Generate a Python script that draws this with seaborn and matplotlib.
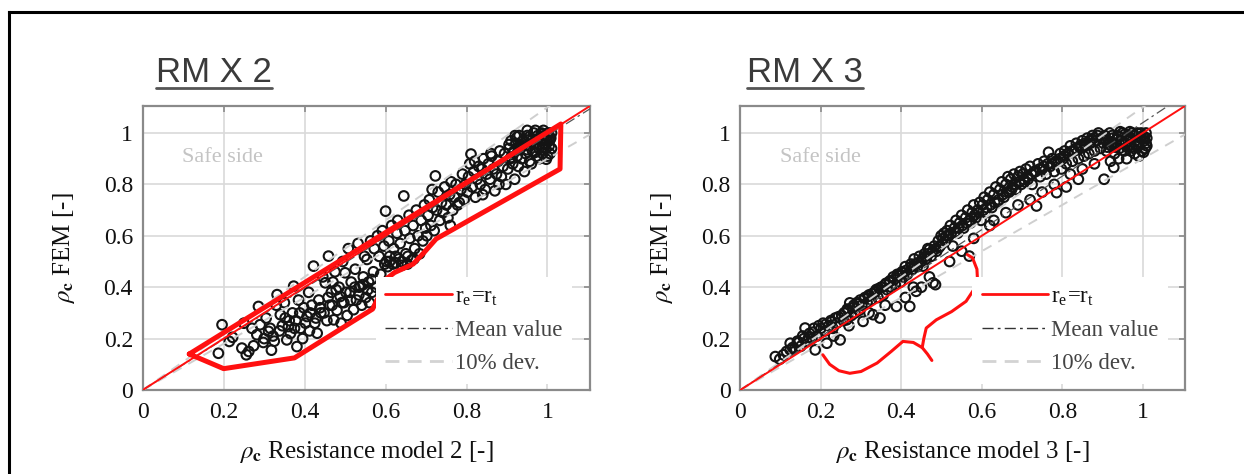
import matplotlib
matplotlib.use("Agg")
import matplotlib.pyplot as plt
import seaborn as sns
from matplotlib.lines import Line2D

# ---------------- text ----------------
panel_titles = ["RM X 2", "RM X 3"]
x_labels = [r"$\rho_{\mathbf{c}}$ Resistance model 2 [-]",
            r"$\rho_{\mathbf{c}}$ Resistance model 3 [-]"]
y_label = r"$\rho_{\mathbf{c}}$ FEM [-]"
tick_values = [0, 0.2, 0.4, 0.6, 0.8, 1]
tick_labels = ["0", "0.2", "0.4", "0.6", "0.8", "1"]
legend_labels = [r"r$_\mathregular{e}$=r$_\mathregular{t}$", "Mean value", "10% dev."]
safe_text = "Safe side"

# ---------------- data: RM X 2 ----------------
rm2_x = [0.196, 0.187, 0.214, 0.222, 0.245, 0.256, 0.262, 0.274, 0.286, 0.290, 0.282, 0.298, 0.270, 0.250,
         0.311, 0.305, 0.318, 0.325, 0.332, 0.340, 0.345, 0.350, 0.356, 0.360, 0.365, 0.370, 0.373, 0.378, 0.381, 0.385, 0.390, 0.395, 0.398, 0.330,
         0.406, 0.410, 0.412, 0.418, 0.422, 0.425, 0.431, 0.435, 0.440, 0.445, 0.451, 0.455, 0.459, 0.462, 0.466, 0.472, 0.475, 0.480, 0.485, 0.488, 0.490, 0.494, 0.497, 0.500, 0.470,
         0.505, 0.508, 0.512, 0.515, 0.521, 0.525, 0.528, 0.532, 0.535, 0.538, 0.541, 0.545, 0.548, 0.551, 0.554, 0.558, 0.560, 0.563, 0.566, 0.570, 0.572, 0.576, 0.580, 0.584, 0.588, 0.592, 0.596, 0.598,
         0.600, 0.602, 0.605, 0.608, 0.610, 0.615, 0.618, 0.620, 0.625, 0.628, 0.630, 0.633, 0.636, 0.640, 0.645, 0.648, 0.650, 0.654, 0.658, 0.660, 0.664, 0.668, 0.672, 0.676, 0.680, 0.684, 0.688, 0.692, 0.696, 0.699,
         0.702, 0.705, 0.708, 0.712, 0.716, 0.720, 0.723, 0.726, 0.730, 0.734, 0.738, 0.742, 0.746, 0.750, 0.754, 0.758, 0.762, 0.766, 0.770, 0.774, 0.778, 0.782, 0.786, 0.790, 0.794, 0.797, 0.760, 0.715,
         0.802, 0.805, 0.808, 0.811, 0.814, 0.818, 0.822, 0.826, 0.830, 0.834, 0.838, 0.842, 0.846, 0.850, 0.854, 0.858, 0.862, 0.866, 0.870, 0.874, 0.878, 0.882, 0.886, 0.890, 0.894, 0.897, 0.840, 0.880, 0.860, 0.820,
         0.902, 0.905, 0.908, 0.910, 0.914, 0.918, 0.919, 0.922, 0.925, 0.928, 0.930, 0.933, 0.936, 0.940, 0.943, 0.946, 0.950, 0.953, 0.956, 0.960, 0.963, 0.966, 0.970, 0.973, 0.976, 0.979, 0.982, 0.985, 0.988, 0.990, 0.993, 0.996, 0.997, 0.999, 1.002, 1.004, 1.006, 1.008, 1.010, 1.010, 0.950, 0.970, 0.990, 1.000, 0.960, 0.980, 1.000, 0.940, 0.920, 1.005]
rm2_y = [0.254, 0.143, 0.189, 0.205, 0.163, 0.137, 0.150, 0.172, 0.325, 0.254, 0.215, 0.185, 0.240, 0.260,
         0.228, 0.280, 0.155, 0.190, 0.371, 0.293, 0.250, 0.340, 0.195, 0.247, 0.220, 0.300, 0.404, 0.270, 0.169, 0.350, 0.240, 0.200, 0.320, 0.330,
         0.286, 0.380, 0.230, 0.330, 0.482, 0.260, 0.221, 0.350, 0.300, 0.440, 0.417, 0.270, 0.521, 0.330, 0.380, 0.273, 0.460, 0.310, 0.400, 0.364, 0.260, 0.500, 0.340, 0.456, 0.420,
         0.290, 0.550, 0.380, 0.420, 0.3125, 0.470, 0.350, 0.570, 0.400, 0.404, 0.330, 0.440, 0.520, 0.360, 0.508, 0.420, 0.340, 0.580, 0.380, 0.460, 0.550, 0.400, 0.600, 0.520, 0.450, 0.620, 0.560, 0.490,
         0.696, 0.500, 0.480, 0.580, 0.520, 0.640, 0.490, 0.550, 0.495, 0.610, 0.660, 0.510, 0.570, 0.485, 0.755, 0.620, 0.530, 0.490, 0.680, 0.590, 0.505, 0.640, 0.550, 0.700, 0.600, 0.530, 0.660, 0.580, 0.720, 0.630,
         0.600, 0.680, 0.740, 0.640, 0.710, 0.620, 0.833, 0.700, 0.770, 0.660, 0.730, 0.690, 0.790, 0.720, 0.670, 0.760, 0.810, 0.700, 0.750, 0.800, 0.720, 0.729, 0.780, 0.840, 0.740, 0.800, 0.640, 0.780,
         0.770, 0.830, 0.880, 0.918, 0.790, 0.850, 0.750, 0.820, 0.870, 0.800, 0.860, 0.900, 0.780, 0.840, 0.880, 0.820, 0.910, 0.860, 0.775, 0.840, 0.890, 0.930, 0.830, 0.870, 0.920, 0.800, 0.760, 0.800, 0.920, 0.890,
         0.860, 0.940, 0.900, 0.970, 0.880, 0.930, 0.820, 0.960, 0.910, 0.870, 0.990, 0.940, 0.900, 0.970, 0.850, 0.920, 0.990, 0.950, 0.890, 0.970, 0.930, 1.000, 0.960, 0.910, 0.990, 0.940, 0.970, 1.000, 0.920, 0.960, 0.990, 0.940, 0.898, 0.970, 1.000, 0.950, 0.920, 0.980, 1.000, 0.940, 1.010, 1.010, 1.010, 0.990, 0.880, 0.900, 0.910, 0.950, 0.990, 0.970]
rm2_extra_x = [0.300, 0.315, 0.322, 0.338, 0.352, 0.362, 0.375, 0.388, 0.402, 0.414, 0.428, 0.438, 0.448, 0.458, 0.468, 0.478, 0.492, 0.502, 0.514, 0.524, 0.534, 0.544, 0.556, 0.566,
               0.610, 0.625, 0.640, 0.655, 0.670,
               0.905, 0.915, 0.925, 0.935, 0.945, 0.955, 0.965, 0.975, 0.985, 0.995, 1.005, 0.910, 0.930, 0.950, 0.970, 0.990]
rm2_extra_y = [0.200, 0.240, 0.210, 0.230, 0.280, 0.270, 0.240, 0.300, 0.260, 0.300, 0.280, 0.320, 0.300, 0.360, 0.330, 0.390, 0.340, 0.380, 0.350, 0.400, 0.370, 0.410, 0.390, 0.430,
               0.500, 0.520, 0.500, 0.520, 0.510,
               0.955, 0.925, 0.985, 0.945, 0.965, 0.985, 0.955, 0.975, 0.995, 0.955, 0.985, 0.905, 0.945, 0.935, 0.925, 0.945]

# ---------------- data: RM X 3 ----------------
rm3_x = [0.087, 0.107, 0.124, 0.124, 0.135, 0.142, 0.150, 0.155, 0.161, 0.165, 0.172, 0.178, 0.183, 0.190, 0.195, 0.186, 0.098, 0.115,
         0.206, 0.210, 0.215, 0.220, 0.225, 0.230, 0.236, 0.240, 0.248, 0.252, 0.256, 0.260, 0.264, 0.268, 0.272, 0.276, 0.280, 0.285, 0.290, 0.295, 0.298, 0.232, 0.270,
         0.302, 0.305, 0.310, 0.315, 0.320, 0.325, 0.330, 0.334, 0.338, 0.342, 0.347, 0.350, 0.355, 0.360, 0.365, 0.370, 0.375, 0.380, 0.385, 0.388, 0.390, 0.396, 0.398, 0.360, 0.320,
         0.402, 0.406, 0.410, 0.415, 0.421, 0.424, 0.428, 0.432, 0.437, 0.440, 0.445, 0.450, 0.454, 0.458, 0.462, 0.466, 0.470, 0.474, 0.479, 0.482, 0.485, 0.488, 0.492, 0.496, 0.499, 0.410, 0.450, 0.470, 0.430,
         0.502, 0.506, 0.510, 0.514, 0.518, 0.522, 0.528, 0.532, 0.536, 0.540, 0.545, 0.550, 0.555, 0.560, 0.565, 0.569, 0.572, 0.576, 0.580, 0.585, 0.590, 0.595, 0.598, 0.520, 0.550, 0.580,
         0.602, 0.606, 0.610, 0.615, 0.620, 0.625, 0.630, 0.635, 0.640, 0.645, 0.650, 0.655, 0.660, 0.665, 0.668, 0.672, 0.676, 0.680, 0.685, 0.690, 0.695, 0.698, 0.630, 0.660, 0.690, 0.620,
         0.702, 0.706, 0.710, 0.715, 0.720, 0.725, 0.730, 0.736, 0.740, 0.745, 0.750, 0.755, 0.760, 0.766, 0.770, 0.775, 0.780, 0.786, 0.790, 0.795, 0.798, 0.720, 0.750, 0.780,
         0.802, 0.806, 0.810, 0.815, 0.820, 0.825, 0.830, 0.835, 0.840, 0.845, 0.850, 0.854, 0.858, 0.862, 0.866, 0.870, 0.875, 0.880, 0.885, 0.890, 0.895, 0.898, 0.820, 0.850, 0.880, 0.810, 0.840,
         0.902, 0.904, 0.906, 0.910, 0.914, 0.918, 0.922, 0.926, 0.928, 0.930, 0.934, 0.938, 0.942, 0.946, 0.950, 0.954, 0.958, 0.962, 0.966, 0.970, 0.974, 0.978, 0.982, 0.986, 0.990, 0.994, 0.998, 1.002, 1.005, 1.008, 1.010, 1.010, 0.960, 0.990, 1.000, 0.940, 0.920, 0.980, 1.006, 0.970]
rm3_y = [0.130, 0.137, 0.156, 0.182, 0.160, 0.190, 0.170, 0.210, 0.241, 0.190, 0.220, 0.200, 0.240, 0.210, 0.250, 0.156, 0.120, 0.150,
         0.260, 0.230, 0.182, 0.250, 0.270, 0.240, 0.280, 0.260, 0.195, 0.290, 0.270, 0.300, 0.273, 0.310, 0.339, 0.290, 0.320, 0.300, 0.340, 0.310, 0.350, 0.210, 0.250,
         0.330, 0.267, 0.360, 0.340, 0.370, 0.350, 0.293, 0.380, 0.391, 0.360, 0.280, 0.400, 0.370, 0.410, 0.390, 0.420, 0.400, 0.440, 0.410, 0.325, 0.450, 0.449, 0.420, 0.330, 0.300,
         0.460, 0.440, 0.480, 0.450, 0.325, 0.490, 0.470, 0.510, 0.384, 0.480, 0.520, 0.500, 0.482, 0.530, 0.510, 0.550, 0.547, 0.520, 0.417, 0.560, 0.410, 0.540, 0.580, 0.560, 0.600, 0.360, 0.400, 0.440, 0.400,
         0.570, 0.610, 0.580, 0.620, 0.600, 0.640, 0.560, 0.630, 0.660, 0.610, 0.650, 0.680, 0.630, 0.670, 0.700, 0.521, 0.650, 0.690, 0.720, 0.670, 0.700, 0.730, 0.660, 0.500, 0.540, 0.590,
         0.720, 0.750, 0.690, 0.740, 0.770, 0.710, 0.760, 0.790, 0.730, 0.780, 0.810, 0.750, 0.800, 0.830, 0.770, 0.820, 0.790, 0.840, 0.780, 0.830, 0.850, 0.800, 0.660, 0.690, 0.720, 0.640,
         0.840, 0.810, 0.860, 0.820, 0.870, 0.800, 0.850, 0.716, 0.880, 0.830, 0.860, 0.890, 0.840, 0.925, 0.870, 0.900, 0.850, 0.768, 0.890, 0.920, 0.860, 0.740, 0.770, 0.800,
         0.900, 0.930, 0.880, 0.920, 0.950, 0.890, 0.930, 0.960, 0.900, 0.940, 0.970, 0.910, 0.950, 0.980, 0.920, 0.960, 0.990, 0.930, 0.970, 1.000, 0.940, 0.980, 0.840, 0.860, 0.880, 0.790, 0.820,
         0.960, 0.820, 0.990, 0.930, 0.970, 1.000, 0.950, 0.980, 0.866, 0.920, 0.960, 0.990, 0.940, 0.970, 1.000, 0.930, 0.960, 0.990, 0.950, 0.980, 1.000, 0.940, 0.970, 1.000, 0.950, 0.980, 0.930, 0.925, 0.970, 1.000, 0.950, 0.980, 0.900, 0.910, 0.990, 0.900, 0.890, 0.920, 0.940, 0.930]
rm3_extra_x = [0.130, 0.145, 0.158, 0.170, 0.180, 0.200, 0.212, 0.226, 0.244, 0.258, 0.266, 0.282, 0.294, 0.308, 0.318, 0.328, 0.336, 0.345, 0.352, 0.362,
               0.372, 0.382, 0.392, 0.404, 0.412, 0.426, 0.434, 0.442, 0.452, 0.460, 0.468, 0.478, 0.486, 0.494, 0.504, 0.512, 0.524, 0.534, 0.542, 0.552,
               0.562, 0.570, 0.582, 0.592, 0.604, 0.612, 0.622, 0.632, 0.642, 0.652, 0.662, 0.674, 0.684, 0.694, 0.704, 0.714, 0.724, 0.734, 0.744, 0.754,
               0.764, 0.774, 0.784, 0.794, 0.804, 0.814, 0.824, 0.834, 0.844, 0.856, 0.868, 0.878, 0.888,
               0.908, 0.916, 0.924, 0.932, 0.940, 0.948, 0.956, 0.964, 0.972, 0.980, 0.988, 0.996, 1.004, 0.912, 0.936, 0.960, 0.984, 1.008, 0.944, 0.968]
rm3_extra_y = [0.165, 0.185, 0.200, 0.205, 0.225, 0.240, 0.255, 0.265, 0.285, 0.300, 0.315, 0.330, 0.335, 0.355, 0.365, 0.375, 0.385, 0.395, 0.400, 0.415,
               0.425, 0.430, 0.445, 0.455, 0.465, 0.480, 0.490, 0.495, 0.510, 0.520, 0.530, 0.540, 0.550, 0.555, 0.590, 0.600, 0.610, 0.615, 0.630, 0.640,
               0.650, 0.660, 0.680, 0.690, 0.700, 0.710, 0.720, 0.730, 0.740, 0.760, 0.770, 0.780, 0.800, 0.810, 0.820, 0.830, 0.840, 0.850, 0.860, 0.870,
               0.880, 0.880, 0.890, 0.900, 0.910, 0.920, 0.930, 0.940, 0.950, 0.960, 0.970, 0.980, 0.990,
               0.975, 0.955, 0.990, 0.945, 0.985, 0.960, 0.995, 0.970, 0.945, 0.990, 0.965, 1.000, 0.985, 0.945, 0.975, 0.945, 0.950, 0.960, 1.005, 1.005]

# ---------------- reference lines ----------------
line_x = [0.0, 1.105]
equal_slope = 1.0
mean_slopes = [0.99, 1.04]
dev_slopes = [0.9, 1.1]

# ---------------- hand-drawn annotations (data coords) ----------------
rm2_region_x = [0.115, 1.033, 1.031, 0.725, 0.695, 0.668, 0.622, 0.600, 0.585, 0.568, 0.375, 0.200, 0.115]
rm2_region_y = [0.140, 1.035, 0.860, 0.588, 0.535, 0.490, 0.457, 0.430, 0.370, 0.315, 0.125, 0.083, 0.140]
rm3_brace_x = [0.205, 0.222, 0.245, 0.272, 0.300, 0.340, 0.375, 0.404, 0.430, 0.452, 0.465, 0.476]
rm3_brace_y = [0.137, 0.100, 0.075, 0.065, 0.072, 0.105, 0.150, 0.189, 0.185, 0.165, 0.140, 0.115]
rm3_stem_x = [0.452, 0.456, 0.462, 0.487, 0.525, 0.561, 0.580, 0.589, 0.588, 0.577, 0.564]
rm3_stem_y = [0.165, 0.200, 0.241, 0.273, 0.305, 0.345, 0.390, 0.440, 0.470, 0.514, 0.527]

panels = [
    dict(x=rm2_x + rm2_extra_x, y=rm2_y + rm2_extra_y, mean=mean_slopes[0],
         title=panel_titles[0], xlabel=x_labels[0],
         shapes=[(rm2_region_x, rm2_region_y, 3.6)]),
    dict(x=rm3_x + rm3_extra_x, y=rm3_y + rm3_extra_y, mean=mean_slopes[1],
         title=panel_titles[1], xlabel=x_labels[1],
         shapes=[(rm3_brace_x, rm3_brace_y, 2.2), (rm3_stem_x, rm3_stem_y, 2.2)]),
]

# ---------------- style ----------------
sns.set_theme(style="white")
plt.rcParams["font.family"] = ["Liberation Serif", "DejaVu Serif"]
plt.rcParams["mathtext.fontset"] = "stix"

W, H = 1244, 474
fig = plt.figure(figsize=(W / 100, H / 100), dpi=100)

axes_px = [(142.7, 590.0), (740.3, 1185.0)]
ax_bottom_px, ax_top_px = 390.0, 106.0
title_left_px = [156, 747]

grid_col = "#d9d9d9"
spine_col = "#8a8a8a"
red = "#ff1010"

for i, p in enumerate(panels):
    l_px, r_px = axes_px[i]
    ax = fig.add_axes([l_px / W, (H - ax_bottom_px) / H, (r_px - l_px) / W,
                       (ax_bottom_px - ax_top_px) / H])
    ax.set_xlim(0, 1.105)
    ax.set_ylim(0, 1.105)
    ax.set_axisbelow(True)
    ax.grid(True, color=grid_col, lw=1.2)
    for s in ax.spines.values():
        s.set_color(spine_col)
        s.set_linewidth(1.6)
    ax.set_xticks(tick_values)
    ax.set_yticks(tick_values)
    ax.set_xticklabels(tick_labels)
    ax.set_yticklabels(tick_labels)
    ax.tick_params(direction="in", length=4, width=1.2, color=spine_col,
                   top=True, right=True, labelsize=17, labelcolor="#111111")
    ax.tick_params(axis="x", pad=9)
    ax.tick_params(axis="y", pad=7)

    # scatter
    sns.scatterplot(x=p["x"], y=p["y"], ax=ax, marker="o", s=48,
                    facecolor="none", edgecolor="#141414", linewidth=1.5,
                    zorder=3, legend=False)

    # reference lines
    ax.plot(line_x, [v * dev_slopes[0] for v in line_x], color="#cfcfcf", lw=1.4,
            ls=(0, (5, 4)), zorder=4)
    ax.plot(line_x, [v * dev_slopes[1] for v in line_x], color="#cfcfcf", lw=1.4,
            ls=(0, (5, 4)), zorder=4)
    ax.plot(line_x, [v * p["mean"] for v in line_x], color="#555555", lw=0.9,
            ls=(0, (8, 3, 2, 3)), zorder=4)
    ax.plot(line_x, [v * equal_slope for v in line_x], color=red, lw=1.4, zorder=5)

    # annotation shapes
    for sx, sy, lw in p["shapes"]:
        ax.plot(sx, sy, color=red, lw=lw, zorder=6, solid_joinstyle="round",
                solid_capstyle="round")

    ax.text(0.198, 0.906, safe_text, fontsize=16, color="#c4c4c4", ha="center",
            va="center", zorder=2)

    ax.set_xlabel(p["xlabel"], fontsize=18, labelpad=11, color="#111111")
    ax.set_ylabel(y_label, fontsize=18, labelpad=19, color="#111111")

    handles = [Line2D([], [], color=red, lw=2.0),
               Line2D([], [], color="#333333", lw=1.0, ls=(0, (8, 3, 2, 3))),
               Line2D([], [], color="#d3d3d3", lw=2.0, ls=(0, (5, 3)))]
    leg = ax.legend(handles, legend_labels, loc="upper left",
                    bbox_to_anchor=(0.522, 0.398), borderaxespad=0, borderpad=0.4,
                    handlelength=2.9, handletextpad=0.15, labelspacing=0.55,
                    fontsize=16.5, frameon=True, facecolor="white", edgecolor="none",
                    framealpha=1.0, fancybox=False)
    leg.set_zorder(10)
    for t, c in zip(leg.get_texts(), ["#111111", "#444444", "#444444"]):
        t.set_color(c)

    # panel title (underlined)
    fig.text(title_left_px[i] / W, 1 - 72 / H, p["title"], fontsize=25,
             family="Liberation Sans", color="#3a3a3a", va="center", ha="left")

fig.canvas.draw()
renderer = fig.canvas.get_renderer()
for t in fig.texts:
    bb = t.get_window_extent(renderer)
    y = (bb.y0 + 1) / H
    fig.add_artist(Line2D([bb.x0 / W, bb.x1 / W], [y, y], color="#555555", lw=2.0,
                          transform=fig.transFigure))

# outer frame: only its top and left edges fall inside the image
frame_top = 1 - 11.5 / H
frame_left = 8.5 / W
fig.add_artist(Line2D([frame_left, 1.02], [frame_top, frame_top], color="black",
                      lw=2.2, transform=fig.transFigure, solid_capstyle="projecting"))
fig.add_artist(Line2D([frame_left, frame_left], [frame_top, -0.02], color="black",
                      lw=2.2, transform=fig.transFigure, solid_capstyle="projecting"))

fig.savefig("out.png", dpi=100)
